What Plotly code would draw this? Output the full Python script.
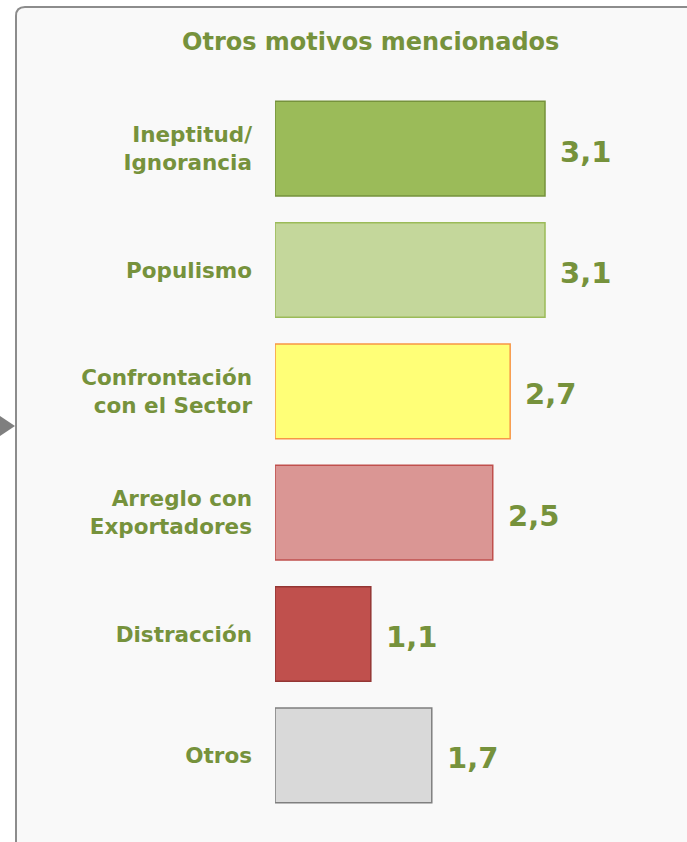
import plotly.graph_objects as go

W, H = 687, 842
L, R, T, B = 275, 0, 88, 26

categorias = ["Ineptitud/<br>Ignorancia", "Populismo", "Confrontación<br>con el Sector",
              "Arreglo con<br>Exportadores", "Distracción", "Otros"]
valores = [3.1, 3.1, 2.7, 2.5, 1.1, 1.8]
etiquetas = ["3,1", "3,1", "2,7", "2,5", "1,1", "1,7"]
relleno = ["#9bbb59", "#c4d79b", "#ffff77", "#da9694", "#c0504d", "#d9d9d9"]
borde = ["#76923c", "#9bbb59", "#f79646", "#c0504d", "#943634", "#7f7f7f"]

verde = "#76923c"
fuente = "DejaVu Sans"


def px_x(p):
    return (p - L) / (W - L - R)


def px_y(p):
    return 1 - (p - T) / (H - T - B)


fig = go.Figure(go.Bar(
    x=valores, y=categorias, orientation="h",
    marker=dict(color=relleno, line=dict(color=borde, width=1.5)),
    hoverinfo="skip",
))

for v, t, c in zip(valores, etiquetas, categorias):
    fig.add_annotation(x=v, y=c, text=f"<b>{t}</b>", showarrow=False,
                       xanchor="left", yanchor="middle", xshift=13, yshift=-3,
                       font=dict(family=fuente, size=29, color=verde))

fig.add_annotation(x=px_x(370), y=px_y(42), xref="paper", yref="paper",
                   xanchor="center", yanchor="middle",
                   text="<b>Otros motivos mencionados</b>", showarrow=False,
                   font=dict(family=fuente, size=24, color=verde))

# panel with rounded top-left corner
r = 9
x0, y0 = px_x(16), px_y(7)
path = (f"M {x0},{px_y(860)} L {x0},{px_y(7 + r)} "
        f"Q {x0},{y0} {px_x(16 + r)},{y0} L {px_x(700)},{y0} "
        f"L {px_x(700)},{px_y(860)} Z")
fig.add_shape(type="path", path=path, xref="paper", yref="paper",
              fillcolor="#f9f9f9", line=dict(color="#8c8c8c", width=2),
              layer="below")
# small arrow at the left
tri = (f"M {px_x(0)},{px_y(416)} L {px_x(15)},{px_y(426)} "
       f"L {px_x(0)},{px_y(436)} Z")
fig.add_shape(type="path", path=tri, xref="paper", yref="paper",
              fillcolor="#7f7f7f", line=dict(width=0), layer="above")

fig.update_layout(
    width=W, height=H,
    margin=dict(l=L, r=R, t=T, b=B),
    paper_bgcolor="white", plot_bgcolor="rgba(0,0,0,0)",
    bargap=0.22, showlegend=False,
    xaxis=dict(range=[0, (W - L - R) / 87.1], visible=False, fixedrange=True),
    yaxis=dict(autorange="reversed", showgrid=False, zeroline=False,
               showline=False, ticks="", ticklabelstandoff=22,
               tickfont=dict(family=fuente, size=21.5, color=verde)),
    font=dict(family=fuente),
)
fig.update_yaxes(tickprefix="<b>", ticksuffix="</b>")

fig.write_html("out.html", config={"displayModeBar": False},
               post_script="document.body.style.margin='0';")
